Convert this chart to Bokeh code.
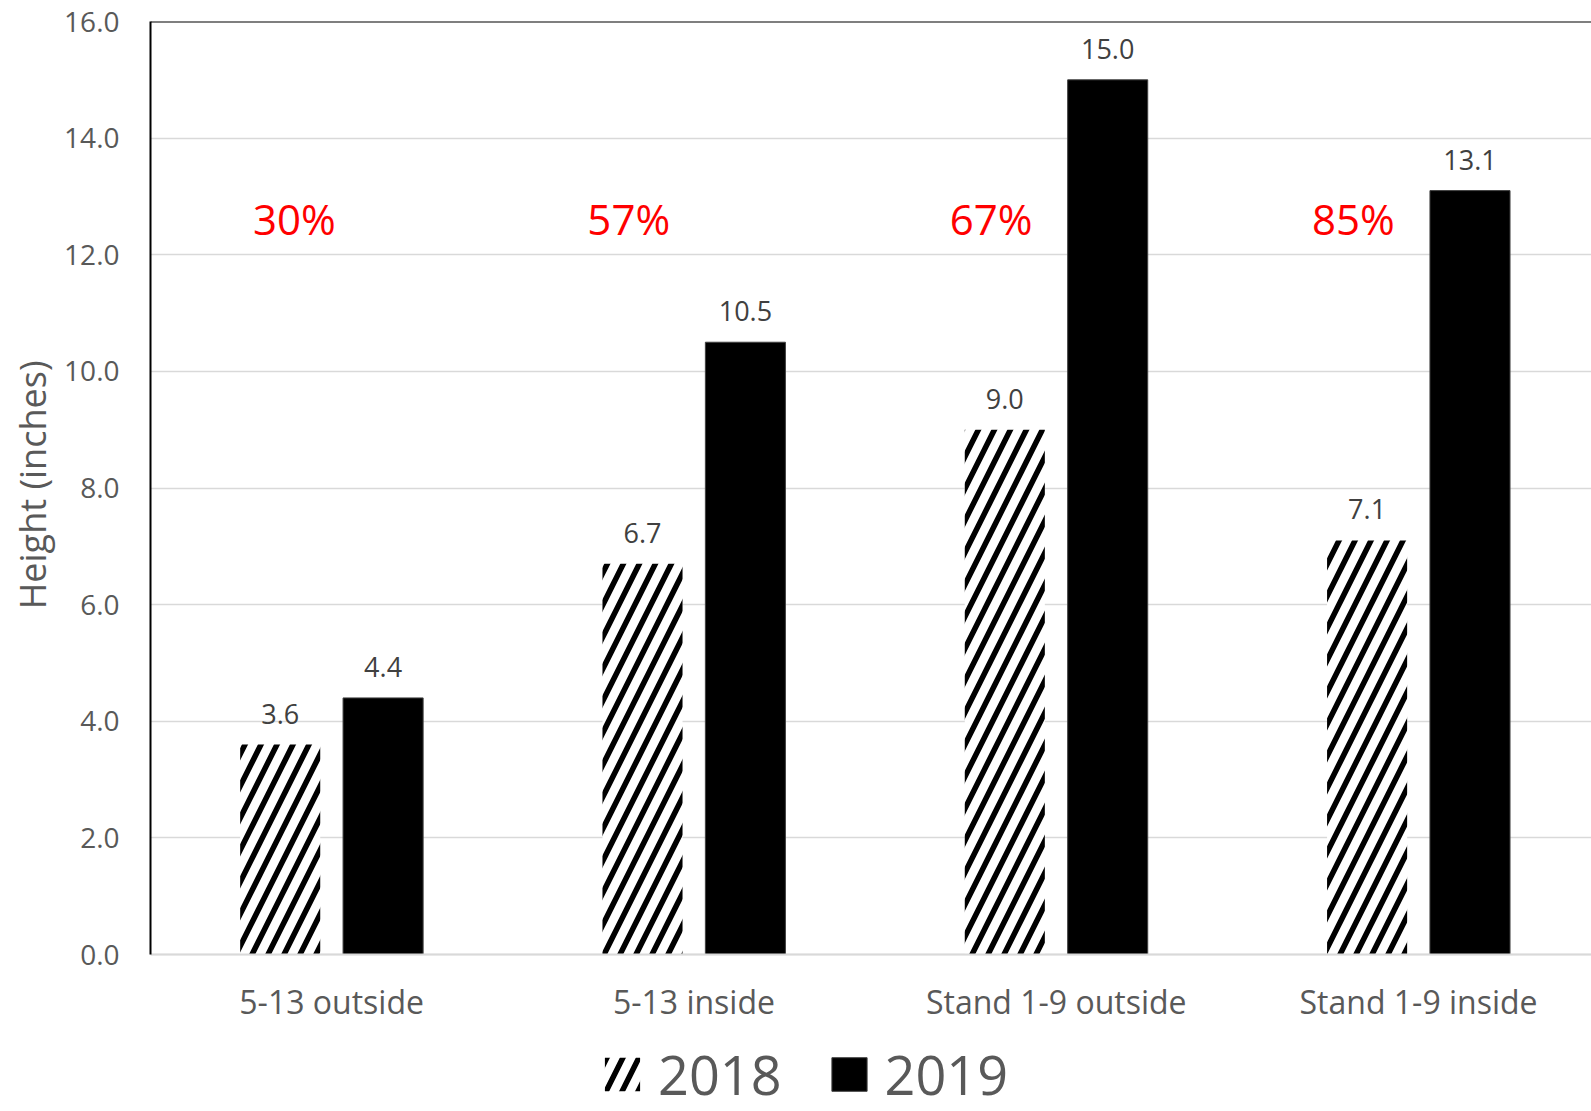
from bokeh.plotting import figure
from bokeh.models import Range1d, FixedTicker, Span, Legend, LegendItem, ColumnDataSource, Title
from bokeh.core.properties import value
from bokeh.embed import file_html
from bokeh.resources import INLINE

# ---- data ----
categories = ["5-13 outside", "5-13 inside", "Stand 1-9 outside", "Stand 1-9 inside"]
years = ["2018", "2019"]
heights_2018 = [3.6, 6.7, 9.0, 7.1]
heights_2019 = [4.4, 10.5, 15.0, 13.1]
pct_labels = ["30%", "57%", "67%", "85%"]
y_ticks = [0, 2, 4, 6, 8, 10, 12, 14, 16]
y_title = "Height (inches)"

FONT = "Open Sans"
TICK_COL = "#595959"
LABEL_COL = "#404040"
GRID_COL = "#D9D9D9"

centers = [i + 0.5 for i in range(len(categories))]
off = 0.142
bw = 0.221

src18 = ColumnDataSource(dict(x=[c - off for c in centers], top=heights_2018,
                              lbl=["%.1f" % v for v in heights_2018]))
src19 = ColumnDataSource(dict(x=[c + off for c in centers], top=heights_2019,
                              lbl=["%.1f" % v for v in heights_2019]))
pct_shift = [-0.103, -0.18, -0.18, -0.18]
src_pct = ColumnDataSource(dict(x=[c + s for c, s in zip(centers, pct_shift)],
                                y=[12.62] * len(pct_labels), lbl=pct_labels))

# frame spans from top line (y=16) down to the canvas bottom; x axis sits at y=0
px_per_unit = 933 / 16.0
y_bottom = 16 - 1090 / px_per_unit

p = figure(width=1591, height=1111, output_backend="svg", toolbar_location=None,
           x_range=Range1d(0, 1441 / 362.3), y_range=Range1d(y_bottom, 16),
           min_border_left=150, min_border_right=0, min_border_top=21, min_border_bottom=0)
p.outline_line_color = None
p.background_fill_color = "white"
p.border_fill_color = "white"

r18 = p.vbar(x="x", top="top", width=bw, source=src18, fill_color="white", line_color=None,
             hatch_pattern="/", hatch_color="black", hatch_scale=32, hatch_weight=5.5)
r19 = p.vbar(x="x", top="top", width=bw, source=src19, fill_color="black", line_color="#404040",
             line_width=1)

for s in (src18, src19):
    p.text(x="x", y="top", text="lbl", source=s, text_align="center", text_baseline="middle",
           y_offset=-31, text_font=value(FONT), text_font_size="27px", text_color=LABEL_COL)

p.text(x="x", y="y", text="lbl", source=src_pct, text_align="center", text_baseline="middle",
       text_font=value(FONT), text_font_size="42px", text_color="#FF0000")

p.add_layout(Span(location=16, dimension="width", line_color="black", line_width=2))

# axes
p.xaxis.fixed_location = 0
p.xaxis.ticker = FixedTicker(ticks=centers)
p.xaxis.major_label_overrides = {c: n for c, n in zip(centers, categories)}
p.xaxis.major_tick_line_color = None
p.xaxis.minor_tick_line_color = None
p.xaxis.axis_line_color = GRID_COL
p.xaxis.axis_line_width = 2
p.xaxis.major_label_text_font = FONT
p.xaxis.major_label_text_font_size = "32px"
p.xaxis.major_label_text_color = TICK_COL
p.xaxis.major_label_standoff = 19

p.yaxis.bounds = (0, 16)
p.yaxis.ticker = FixedTicker(ticks=y_ticks)
p.yaxis.major_label_overrides = {t: "%.1f" % t for t in y_ticks}
p.yaxis.major_tick_line_color = None
p.yaxis.minor_tick_line_color = None
p.yaxis.axis_line_color = "black"
p.yaxis.axis_line_width = 2
p.yaxis.major_label_text_font = FONT
p.yaxis.major_label_text_font_size = "28px"
p.yaxis.major_label_text_color = TICK_COL
p.yaxis.major_label_standoff = 25

p.add_layout(Title(text=y_title, align="right", offset=339, standoff=9,
                   text_font=FONT, text_font_size="36px", text_font_style="normal",
                   text_color=TICK_COL), "left")

p.xgrid.grid_line_color = None
p.ygrid.grid_line_color = GRID_COL
p.ygrid.grid_line_width = 1.5

legend = Legend(items=[LegendItem(label=years[0], renderers=[r18]),
                       LegendItem(label=years[1], renderers=[r19])],
                location=(450, 0), orientation="horizontal", margin=0,
                glyph_width=44, glyph_height=42, label_standoff=14, spacing=45, padding=0,
                label_text_font=FONT, label_text_font_size="54px", label_text_color=TICK_COL,
                border_line_color=None, background_fill_alpha=0)
p.add_layout(legend, "center")

open("out.html", "w").write(file_html(p, INLINE))
